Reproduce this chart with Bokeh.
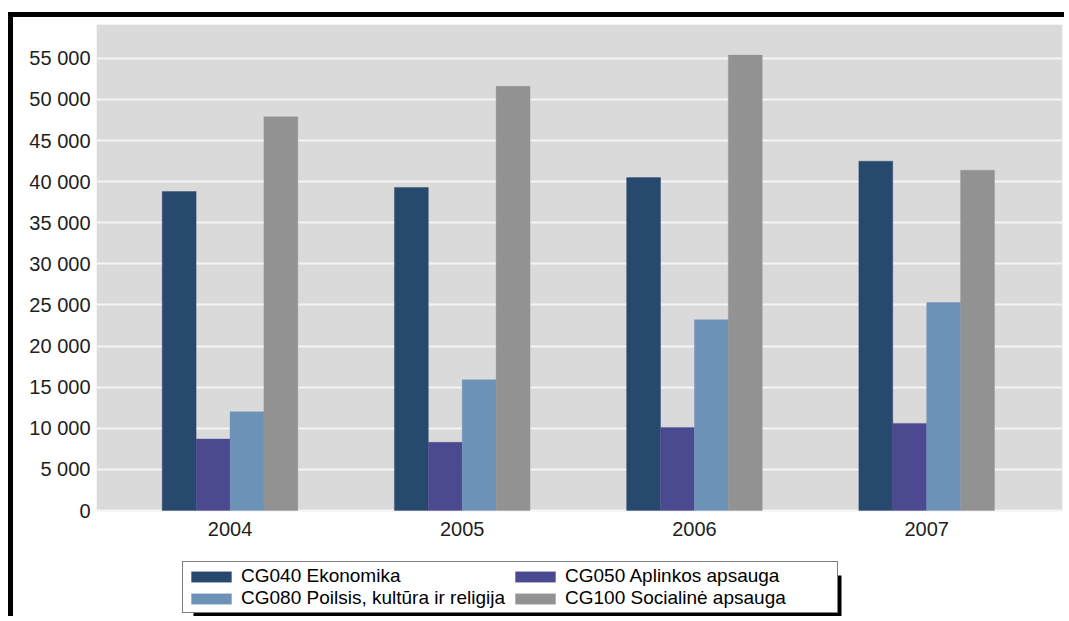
from bokeh.plotting import figure
from bokeh.models import (ColumnDataSource, Legend, LegendItem, BoxAnnotation,
                          FixedTicker, Range1d)
from bokeh.transform import dodge
from bokeh.embed import file_html
from bokeh.resources import INLINE

# ---- data ----
years = ["2004", "2005", "2006", "2007"]
cg040 = [38800, 39300, 40500, 42500]
cg050 = [8700, 8300, 10100, 10600]
cg080 = [12000, 15900, 23200, 25300]
cg100 = [47900, 51600, 55400, 41400]
series_keys = ["cg040", "cg050", "cg080", "cg100"]
series_labels = ["CG040 Ekonomika", "CG050 Aplinkos apsauga",
                 "CG080 Poilsis, kultūra ir religija", "CG100 Socialinė apsauga"]
colors = ["#26496d", "#4b4990", "#6c92b8", "#929292"]
y_ticks = [0, 5000, 10000, 15000, 20000, 25000, 30000, 35000, 40000, 45000, 50000, 55000]
y_tick_labels = ["0", "5 000", "10 000", "15 000", "20 000", "25 000", "30 000",
                 "35 000", "40 000", "45 000", "50 000", "55 000"]

FONT = "Liberation Sans"

src = ColumnDataSource(dict(x=list(range(len(years))), cg040=cg040, cg050=cg050,
                            cg080=cg080, cg100=cg100))

W, H = 1056, 604
p = figure(width=W, height=H, x_range=Range1d(-0.575, 3.585), y_range=Range1d(-13500, 59120),
           output_backend="svg", toolbar_location=None,
           min_border_left=83, min_border_right=7, min_border_top=7, min_border_bottom=0)
p.styles = {"margin-left": "8px", "margin-top": "12px",
            "border-left": "5px solid black", "border-top": "5px solid black"}

p.background_fill_color = "white"
p.border_fill_color = "white"
p.outline_line_color = None

# grey plot area (above zero)
p.add_layout(BoxAnnotation(bottom=0, fill_color="#dadada", fill_alpha=1,
                           line_color="#e6e6e6", line_width=1, level="image"))

p.xgrid.visible = False
p.ygrid.ticker = FixedTicker(ticks=y_ticks)
p.ygrid.bounds = (0, 59120)
p.ygrid.grid_line_color = "#f4f4f4"
p.ygrid.grid_line_width = 2

p.yaxis.ticker = FixedTicker(ticks=y_ticks)
p.yaxis.major_label_overrides = dict(zip(y_ticks, y_tick_labels))
p.xaxis.ticker = FixedTicker(ticks=list(range(len(years))))
p.xaxis.major_label_overrides = dict(zip(range(len(years)), years))
p.xaxis.fixed_location = 0
for ax in (p.xaxis, p.yaxis):
    ax.axis_line_color = None
    ax.major_tick_line_color = None
    ax.minor_tick_line_color = None
    ax.major_label_text_font = FONT
    ax.major_label_text_font_size = "20px"
    ax.major_label_text_color = "#1e1e1e"
p.yaxis.major_tick_out = 0
p.yaxis.major_tick_in = 0
p.yaxis.major_label_standoff = 6
p.xaxis.major_label_standoff = 5

w = 0.146
renderers = []
for i, (key, col) in enumerate(zip(series_keys, colors)):
    r = p.vbar(x=dodge("x", (i - 1.5) * w, range=p.x_range), top=key, width=w,
               source=src, fill_color=col, line_color=col, line_alpha=0.35,
               line_width=1)
    renderers.append(r)

# legend shadow
p.add_layout(BoxAnnotation(left=175, right=823, top=553, bottom=601,
                           left_units="canvas", right_units="canvas",
                           top_units="canvas", bottom_units="canvas",
                           fill_color="black", fill_alpha=1, line_color=None))

order = [0, 2, 1, 3]
legend = Legend(items=[LegendItem(label=series_labels[k], renderers=[renderers[k]]) for k in order],
                location=(86, 8), orientation="vertical", ncols=2)
legend.border_line_color = "black"
legend.border_line_width = 1
legend.background_fill_color = "white"
legend.background_fill_alpha = 1
legend.label_text_font = FONT
legend.label_text_font_size = "19px"
legend.label_text_color = "black"
legend.glyph_width = 50
legend.glyph_height = 13
legend.label_standoff = 5
legend.spacing = 0
legend.padding = 3
legend.margin = 0
legend.label_width = 269
legend.label_height = 20
p.add_layout(legend)

open("out.html", "w").write(file_html(p, INLINE))
